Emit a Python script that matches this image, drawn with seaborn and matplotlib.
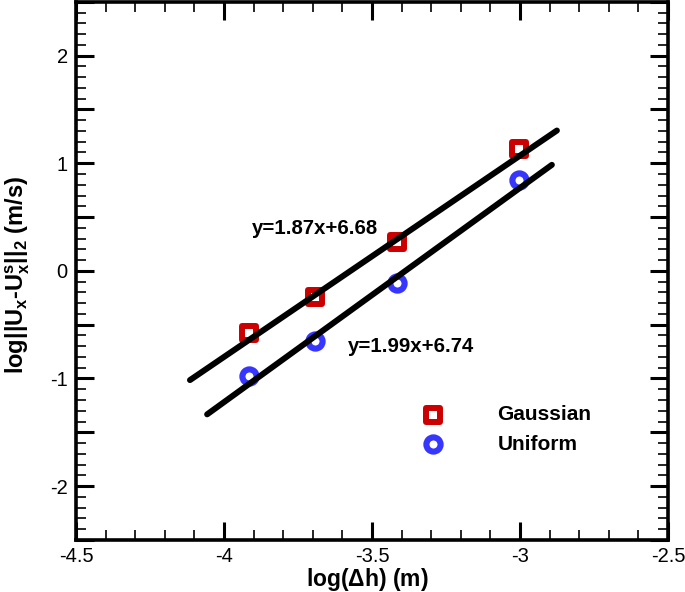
import numpy as np
import matplotlib
matplotlib.use('Agg')
import matplotlib.pyplot as plt
import seaborn as sns
from matplotlib.ticker import MultipleLocator

# data
log_dh = [-3.916, -3.693, -3.416, -3.003]
gaussian = [-0.58, -0.24, 0.27, 1.13]
uniform = [-0.98, -0.65, -0.11, 0.84]

# fitted lines (from the equations shown)
fit_gauss = (1.87, 6.68)
fit_unif = (1.99, 6.74)
fit_gauss_x = [-4.115, -2.875]
fit_unif_x = [-4.057, -2.892]

red = '#cc0000'
blue = '#3636ff'

sns.set_style('ticks')
plt.rcParams['font.family'] = ['Liberation Sans', 'DejaVu Sans']
plt.rcParams['mathtext.fontset'] = 'custom'
plt.rcParams['mathtext.bf'] = 'Liberation Sans:bold'
plt.rcParams['mathtext.rm'] = 'Liberation Sans:bold'
plt.rcParams['mathtext.default'] = 'bf'
for k in ['text.color', 'axes.labelcolor', 'xtick.color', 'ytick.color', 'axes.edgecolor']:
    plt.rcParams[k] = 'black'

fig = plt.figure(figsize=(6.85, 5.92), dpi=100)
ax = fig.add_axes([0.111, 0.088, 0.864, 0.909])

sns.scatterplot(x=log_dh, y=gaussian, marker='s', s=95, color='white',
                edgecolor=red, linewidth=4.3, label='Gaussian', ax=ax, zorder=3)
sns.scatterplot(x=log_dh, y=uniform, marker='o', s=105, color='white',
                edgecolor=blue, linewidth=4.4, label='Uniform', ax=ax, zorder=3)

for (m, b), xs in [(fit_gauss, fit_gauss_x), (fit_unif, fit_unif_x)]:
    xs = np.array(xs)
    sns.lineplot(x=xs, y=m * xs + b, color='black', linewidth=4.3,
                 ax=ax, legend=False, zorder=4)

ax.text(-3.905, 0.39, 'y=1.87x+6.68', fontsize=14.7, fontweight='bold', va='center')
ax.text(-3.581, -0.706, 'y=1.99x+6.74', fontsize=14.7, fontweight='bold', va='center')

ax.set_xlim(-4.5, -2.5)
ax.set_ylim(-2.5, 2.5)
ax.xaxis.set_minor_locator(MultipleLocator(0.1))
ax.yaxis.set_minor_locator(MultipleLocator(0.1))
ax.set_xticks(np.arange(-4.5, -2.49, 0.5))
ax.set_xticklabels(['-4.5', '-4', '-3.5', '-3', '-2.5'])
yt = np.arange(-2.5, 2.51, 0.5)
ax.set_yticks(yt)
ax.set_yticklabels([('%d' % v if abs(v - round(v)) < 1e-9 else '') for v in yt])

ax.tick_params(which='both', direction='in', top=True, right=True, labelsize=14.5)
ax.tick_params(which='major', length=13, width=2.2, pad=6)
ax.tick_params(axis='x', which='major', pad=5)
ax.tick_params(which='minor', length=7, width=1.2)
for sp in ax.spines.values():
    sp.set_linewidth(2.6)
    sp.set_visible(True)

ax.set_xlabel(r'log($\Delta$h) (m)', fontsize=16.5, fontweight='bold')
ax.set_ylabel(r'log||U$_x$-U$_x^s$||$_2$ (m/s)', fontsize=17, fontweight='bold')
ax.xaxis.set_label_coords(0.4916, -0.049)
ax.yaxis.set_label_coords(-0.074, 0.4926)

leg = ax.legend(loc='upper left', bbox_to_anchor=(0.568, 0.25), frameon=False,
                borderaxespad=0, borderpad=0, handletextpad=2.1, labelspacing=0.5,
                prop={'size': 15, 'weight': 'bold'})

fig.savefig('out.png', dpi=100)
